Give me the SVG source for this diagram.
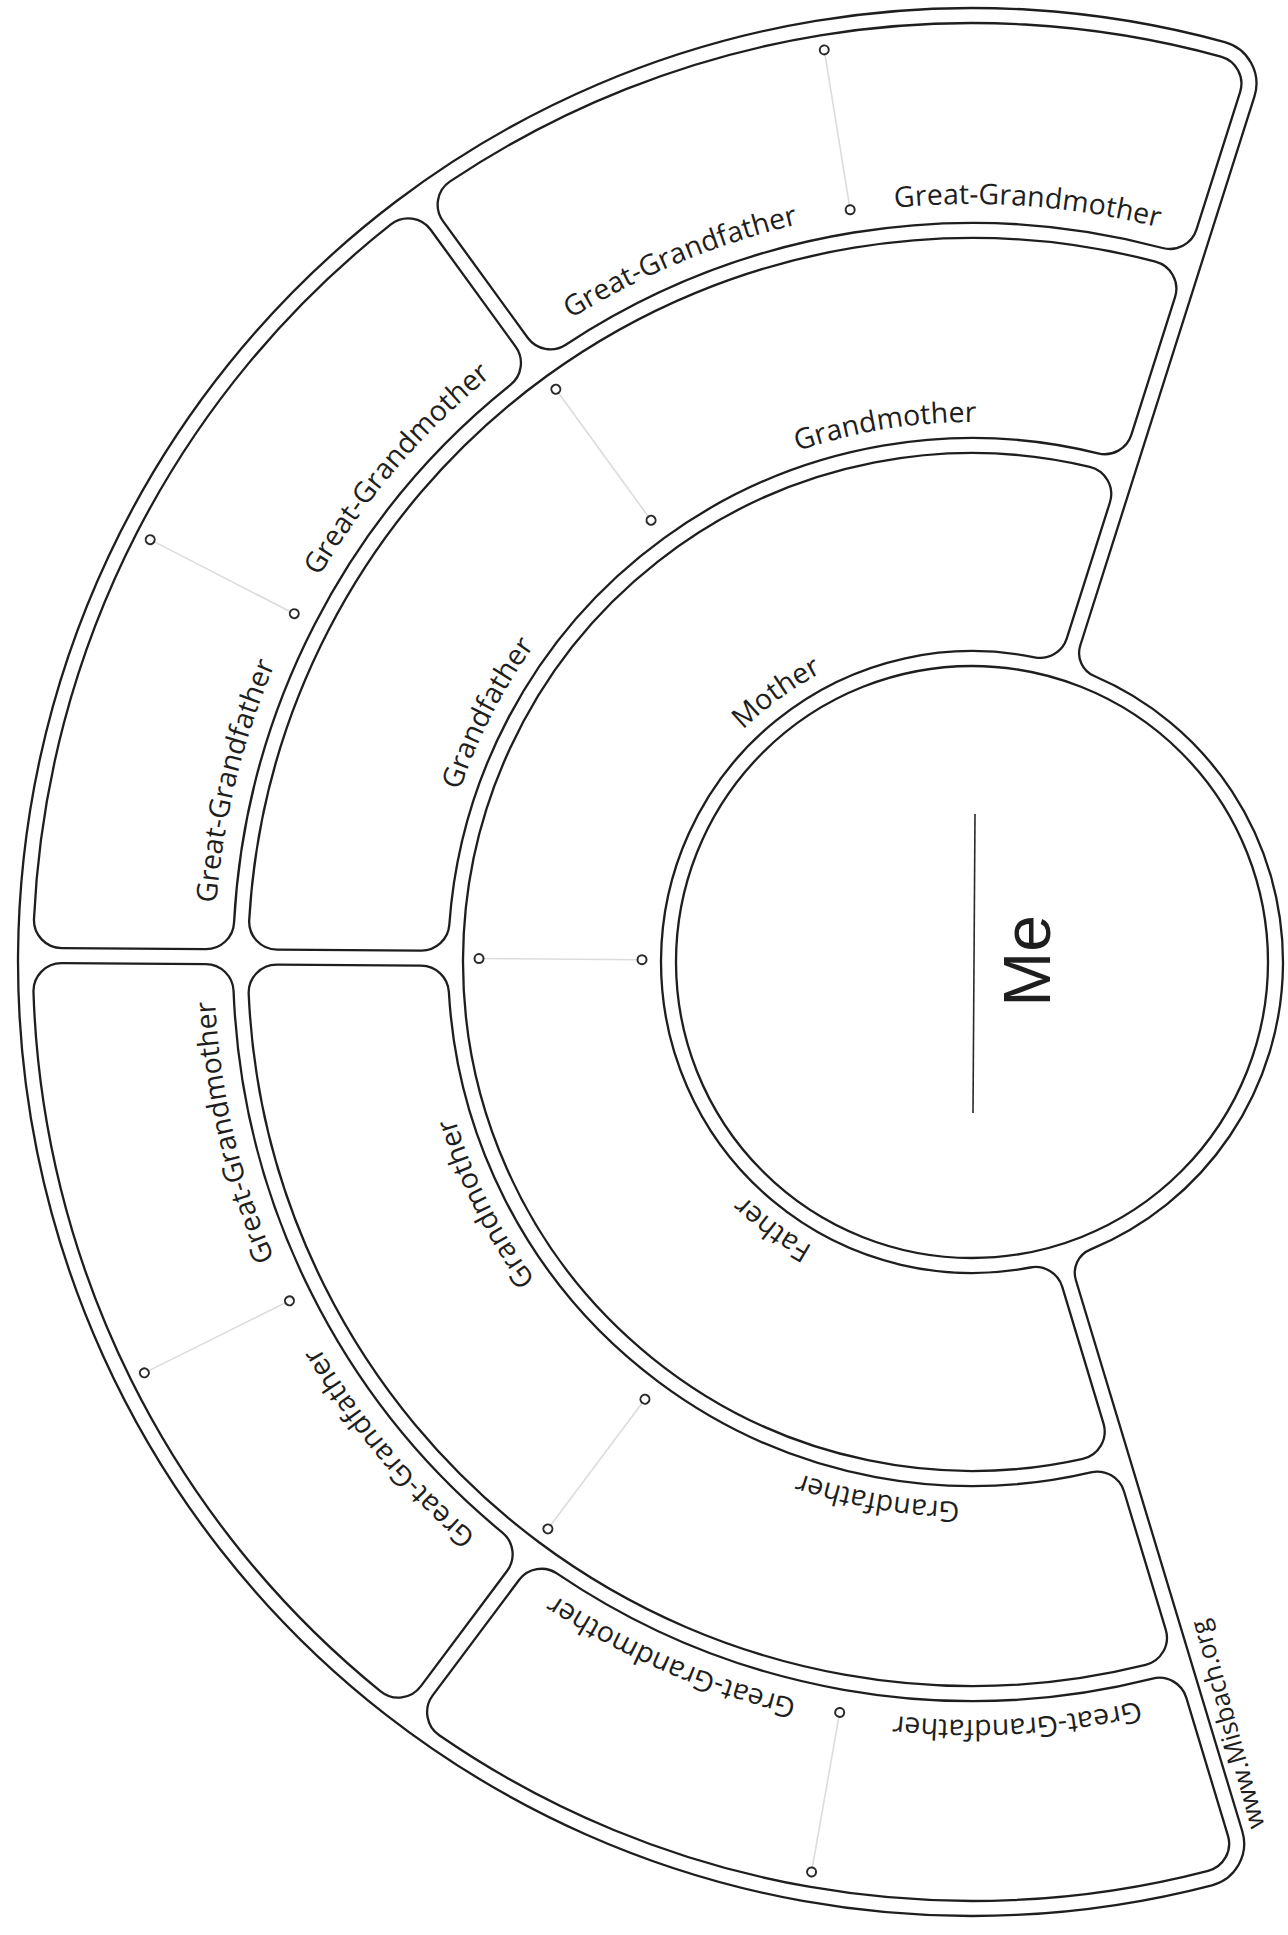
<svg xmlns="http://www.w3.org/2000/svg" width="1288" height="1935" viewBox="0 0 1288 1935">
<style>
.o{fill:#fff;stroke:#1e1e1e;stroke-width:2.3;stroke-linejoin:round}
.lbl{font-family:"Open Sans","Liberation Sans",sans-serif;font-size:28.5px;fill:#1e1e1e;text-anchor:middle}
.div{stroke:#dcdcdc;stroke-width:1.6}
.mk{fill:#fff;stroke:#2a2a2a;stroke-width:2}
</style>
<defs>
<path id="cGG" class="o" d="M854.00 -390.39A939 939 0 0 1 854.00 390.39A28 28 0 0 1 815.91 403.74L687.26 338.76A28 28 0 0 1 674.34 302.31A739 739 0 0 0 674.34 -302.31A28 28 0 0 1 687.26 -338.76L815.91 -403.74A28 28 0 0 1 854.00 -390.39Z"/>
<path id="cGP" class="o" d="M458.80 -560.07A724 724 0 0 1 458.80 560.07A28 28 0 0 1 418.52 555.03L332.93 438.93A28 28 0 0 1 337.43 400.89A524 524 0 0 0 337.43 -400.89A28 28 0 0 1 332.93 -438.93L418.52 -555.03A28 28 0 0 1 458.80 -560.07Z"/>
<path id="cP" class="o" d="M-114.22 -496.02A509 509 0 1 1 -114.22 496.02A28 28 0 0 1 -134.68 460.45L-92.53 324.28A28 28 0 0 1 -60.35 305.09A311 311 0 1 0 -60.35 -305.09A28 28 0 0 1 -92.53 -324.28L-134.68 -460.45A28 28 0 0 1 -114.22 -496.02Z"/>
<path id="fr" class="o" d="M-246.38 -921.64A954 954 0 1 1 -246.38 921.64A43 43 0 0 1 -276.35 867.38L-106.06 317.25A25 25 0 0 0 -120.27 286.80A311 311 0 0 1 -120.27 -286.80A25 25 0 0 0 -106.06 -317.25L-276.35 -867.38A43 43 0 0 1 -246.38 -921.64Z"/>
<path id="arcGG" fill="none" d="M580.66 -487.23A758 758 0 0 1 580.66 487.23"/>
<path id="arcGP" fill="none" d="M413.66 -347.11A540 540 0 0 1 413.66 347.11"/>
<path id="arcP" fill="none" d="M249.73 -209.55A326 326 0 0 1 249.73 209.55"/>
</defs>
<rect width="1288" height="1935" fill="#fff"/>
<g id="frame"><use href="#fr" transform="translate(972 962) rotate(180.4)"/></g>
<g id="parents">
<use href="#cP" transform="translate(972 962) rotate(180.4)"/>
<text class="lbl" transform="translate(972 962) rotate(234)"><textPath href="#arcP" startOffset="50%">Mother</textPath></text>
<text class="lbl" transform="translate(972 962) rotate(126.8)"><textPath href="#arcP" startOffset="50%">Father</textPath></text>
</g>
<g id="gp-maternal">
<use href="#cGP" transform="translate(972 962) rotate(234)"/>
<text class="lbl" transform="translate(972 962) rotate(207.2)"><textPath href="#arcGP" startOffset="50%">Grandfather</textPath></text>
<text class="lbl" transform="translate(972 962) rotate(260.8)"><textPath href="#arcGP" startOffset="50%">Grandmother</textPath></text>
</g>
<g id="gp-paternal">
<use href="#cGP" transform="translate(972 962) rotate(126.8)"/>
<text class="lbl" transform="translate(972 962) rotate(153.6)"><textPath href="#arcGP" startOffset="50%">Grandmother</textPath></text>
<text class="lbl" transform="translate(972 962) rotate(100)"><textPath href="#arcGP" startOffset="50%">Grandfather</textPath></text>
</g>
<g id="gg-maternal-2">
<use href="#cGG" transform="translate(972 962) rotate(260.8)"/>
<text class="lbl" transform="translate(972 962) rotate(247.4)"><textPath href="#arcGG" startOffset="50%">Great-Grandfather</textPath></text>
<text class="lbl" transform="translate(972 962) rotate(274.2)"><textPath href="#arcGG" startOffset="50%">Great-Grandmother</textPath></text>
</g>
<g id="gg-maternal-1">
<use href="#cGG" transform="translate(972 962) rotate(207.2)"/>
<text class="lbl" transform="translate(972 962) rotate(193.8)"><textPath href="#arcGG" startOffset="50%">Great-Grandfather</textPath></text>
<text class="lbl" transform="translate(972 962) rotate(220.6)"><textPath href="#arcGG" startOffset="50%">Great-Grandmother</textPath></text>
</g>
<g id="gg-paternal-1">
<use href="#cGG" transform="translate(972 962) rotate(153.6)"/>
<text class="lbl" transform="translate(972 962) rotate(167)"><textPath href="#arcGG" startOffset="50%">Great-Grandmother</textPath></text>
<text class="lbl" transform="translate(972 962) rotate(140.2)"><textPath href="#arcGG" startOffset="50%">Great-Grandfather</textPath></text>
</g>
<g id="gg-paternal-2">
<use href="#cGG" transform="translate(972 962) rotate(100)"/>
<text class="lbl" transform="translate(972 962) rotate(113.4)"><textPath href="#arcGG" startOffset="50%">Great-Grandmother</textPath></text>
<text class="lbl" transform="translate(972 962) rotate(86.6)"><textPath href="#arcGG" startOffset="50%">Great-Grandfather</textPath></text>
</g>
<g id="me">
<circle class="o" cx="972" cy="962" r="296"/>
<line x1="975" y1="814" x2="973" y2="1113" stroke="#2a2a2a" stroke-width="1.6"/>
<text transform="translate(1050 961) rotate(-90)" font-family="'Liberation Sans',Arial,sans-serif" font-size="66" fill="#1e1e1e" text-anchor="middle">Me</text>
</g>
<g id="connectors">
<g transform="translate(972 962) rotate(180.4)"><line class="div" x1="330" y1="0" x2="493" y2="0"/><circle class="mk" cx="330" cy="0" r="4.5"/><circle class="mk" cx="493" cy="0" r="4.5"/></g>
<g transform="translate(972 962) rotate(234)"><line class="div" x1="546" y1="0" x2="708" y2="0"/><circle class="mk" cx="546" cy="0" r="4.5"/><circle class="mk" cx="708" cy="0" r="4.5"/></g>
<g transform="translate(972 962) rotate(126.8)"><line class="div" x1="546" y1="0" x2="708" y2="0"/><circle class="mk" cx="546" cy="0" r="4.5"/><circle class="mk" cx="708" cy="0" r="4.5"/></g>
<g transform="translate(972 962) rotate(260.8)"><line class="div" x1="762" y1="0" x2="924" y2="0"/><circle class="mk" cx="762" cy="0" r="4.5"/><circle class="mk" cx="924" cy="0" r="4.5"/></g>
<g transform="translate(972 962) rotate(207.2)"><line class="div" x1="762" y1="0" x2="924" y2="0"/><circle class="mk" cx="762" cy="0" r="4.5"/><circle class="mk" cx="924" cy="0" r="4.5"/></g>
<g transform="translate(972 962) rotate(153.6)"><line class="div" x1="762" y1="0" x2="924" y2="0"/><circle class="mk" cx="762" cy="0" r="4.5"/><circle class="mk" cx="924" cy="0" r="4.5"/></g>
<g transform="translate(972 962) rotate(100)"><line class="div" x1="762" y1="0" x2="924" y2="0"/><circle class="mk" cx="762" cy="0" r="4.5"/><circle class="mk" cx="924" cy="0" r="4.5"/></g>
</g>
<text id="url" transform="translate(1236 1722) rotate(-105.5)" font-family="'Open Sans','Liberation Sans',sans-serif" font-size="26" fill="#1e1e1e" text-anchor="middle">www.Misbach.org</text>
</svg>
